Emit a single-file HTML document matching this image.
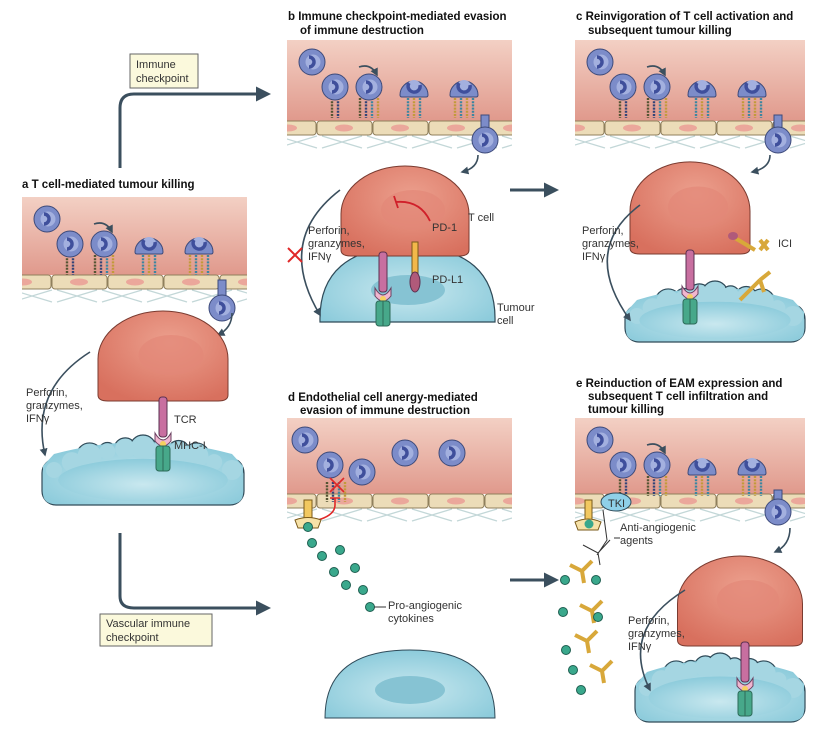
<!DOCTYPE html>
<html><head><meta charset="utf-8"><style>
html,body{margin:0;padding:0;background:#fff;}
svg{display:block;font-family:"Liberation Sans",sans-serif;}
.t{font-size:11px;fill:#333;}
.h{font-size:11.5px;font-weight:bold;fill:#111;}
</style></head><body>
<svg id="s" width="830" height="733" viewBox="0 0 830 733" xmlns="http://www.w3.org/2000/svg">
<defs>
<linearGradient id="ves" x1="0" y1="0" x2="0" y2="1"><stop offset="0" stop-color="#f3d0c4"/><stop offset="1" stop-color="#e0998c"/></linearGradient>
<radialGradient id="tc" cx="0.55" cy="0.35" r="0.7"><stop offset="0" stop-color="#eca08e"/><stop offset="1" stop-color="#d8705e"/></radialGradient>
<radialGradient id="tu" cx="0.5" cy="0.6" r="0.6"><stop offset="0" stop-color="#c9e8ef"/><stop offset="1" stop-color="#8ccbdb"/></radialGradient>
<marker id="ar" viewBox="0 0 10 10" refX="8" refY="5" markerWidth="5" markerHeight="5" orient="auto"><path d="M0,0L10,5L0,10z" fill="#3b4f5e"/></marker>
<g id="leuk"><circle r="13" fill="#7c8cc9" stroke="#3d4a7a" stroke-width="1"/><circle r="7.5" cx="1" fill="#a3b0df"/><path d="M-3,-5 A5,5 0 1 1 -3,5" fill="none" stroke="#3f4f9c" stroke-width="3.5"/></g>
<g id="dome"><path d="M-14,5 A14,14 0 1 1 14,5 Q14,7 12,7 L-12,7 Q-14,7 -14,5Z" fill="#7c8cc9" stroke="#3d4a7a"/><circle r="7" cy="-3" fill="#a3b0df"/><path d="M-5,-7 A6,6 0 1 0 6,-5" fill="none" stroke="#3f4f9c" stroke-width="3.5"/></g>
<g id="endo"><rect x="0" y="0" width="55" height="14" rx="3" fill="#ecdcb8" stroke="#8f7f5c" stroke-width="1"/><ellipse cx="27" cy="7" rx="9" ry="3.5" fill="#eba79b"/></g>
<g id="cross"><path d="M0,0 L40,12 M40,0 L0,12" stroke="#c3d7d8" stroke-width="1.3"/></g>
<g id="rec"><rect x="-4" y="0" width="8" height="40" rx="3" fill="#c86fa0" stroke="#5a3050"/><path d="M-8,36 Q0,50 8,36 L8,44 Q0,54 -8,44z" fill="#f0b6cf" stroke="#6a4060"/><circle cx="0" cy="47" r="3" fill="#f5d060"/><rect x="-7" y="49" width="14" height="25" rx="3" fill="#47a88a" stroke="#2d6a58"/><line x1="0" y1="49" x2="0" y2="74" stroke="#2d6a58"/></g>
</defs>
<g id="shapes"></g>

<path d="M120,168 V108 Q120,94 134,94 H268" fill="none" stroke="#3b4f5e" stroke-width="3" marker-end="url(#ar)"/>
<path d="M120,533 V596 Q120,608 134,608 H268" fill="none" stroke="#3b4f5e" stroke-width="3" marker-end="url(#ar)"/>
<path d="M510,190 H556" stroke="#3b4f5e" stroke-width="3" marker-end="url(#ar)"/>
<path d="M510,580 H556" stroke="#3b4f5e" stroke-width="3" marker-end="url(#ar)"/>
<rect x="130" y="54" width="68" height="34" fill="#fbf9dc" stroke="#666"/>
<text class="t" x="136" y="68">Immune</text><text class="t" x="136" y="82">checkpoint</text>
<rect x="100" y="614" width="112" height="32" fill="#fbf9dc" stroke="#666"/>
<text class="t" x="106" y="627">Vascular immune</text><text class="t" x="106" y="641">checkpoint</text>

<text class="h" x="22" y="188">a  T cell-mediated tumour killing</text>
<text class="h" x="288" y="20">b  Immune checkpoint-mediated evasion</text>
<text class="h" x="300" y="34">of immune destruction</text>
<text class="h" x="576" y="20">c  Reinvigoration of T cell activation and</text>
<text class="h" x="588" y="34">subsequent tumour killing</text>
<text class="h" x="288" y="401">d  Endothelial cell anergy-mediated</text>
<text class="h" x="300" y="414">evasion of  immune destruction</text>
<text class="h" x="576" y="387">e  Reinduction of EAM expression and</text>
<text class="h" x="588" y="400">subsequent T cell infiltration and</text>
<text class="h" x="588" y="413">tumour killing</text>

<text class="t" x="26" y="396">Perforin,</text><text class="t" x="26" y="409">granzymes,</text><text class="t" x="26" y="422">IFNγ</text>
<text class="t" x="174" y="423">TCR</text><text class="t" x="174" y="449">MHC-I</text>
<text class="t" x="308" y="234">Perforin,</text><text class="t" x="308" y="247">granzymes,</text><text class="t" x="308" y="260">IFNγ</text>
<text class="t" x="468" y="221">T cell</text><text class="t" x="432" y="231">PD-1</text><text class="t" x="432" y="283">PD-L1</text>
<text class="t" x="497" y="311">Tumour</text><text class="t" x="497" y="324">cell</text>
<text class="t" x="582" y="234">Perforin,</text><text class="t" x="582" y="247">granzymes,</text><text class="t" x="582" y="260">IFNγ</text>
<text class="t" x="778" y="247">ICI</text>
<text class="t" x="388" y="609">Pro-angiogenic</text><text class="t" x="388" y="622">cytokines</text>
<text class="t" x="620" y="531">Anti-angiogenic</text><text class="t" x="620" y="544">agents</text>
<text class="t" x="608" y="507">TKI</text>
<text class="t" x="628" y="624">Perforin,</text><text class="t" x="628" y="637">granzymes,</text><text class="t" x="628" y="650">IFNγ</text>
</svg>
<script>
var S=document.getElementById('shapes');
function add(h){S.insertAdjacentHTML('beforeend',h);}
function vessel(x,y,w,h){
  var ey=y+h-15,s='<rect x="'+x+'" y="'+y+'" width="'+w+'" height="'+(h-14)+'" fill="url(#ves)"/>';
  s+='<svg x="'+x+'" y="'+(ey+14)+'" width="'+w+'" height="16" overflow="hidden">';
  for(var cx=-10;cx<w+30;cx+=45)s+='<use href="#cross" x="'+cx+'" y="2"/>';
  s+='</svg><svg x="'+x+'" y="'+ey+'" width="'+w+'" height="16" overflow="hidden">';
  for(var i=-1;i<6;i++)s+='<use href="#endo" x="'+(i*56+30)+'" y="1"/>';
  s+='</svg>';add(s);
}
function legs(x,y,n,c){var s='';for(var i=0;i<n;i++){var lx=x-(n-1)*3+i*6;s+='<line x1="'+lx+'" y1="'+y+'" x2="'+lx+'" y2="'+(y+20)+'" stroke="'+(c[i%c.length])+'" stroke-width="2.4" stroke-dasharray="2 1.2"/>';}add(s);}
function row(x,y){
  add('<use href="#leuk" x="'+(x+25)+'" y="'+(y+22)+'"/>');
  legs(x+48,y+58,2,['#553','#347']);add('<use href="#leuk" x="'+(x+48)+'" y="'+(y+47)+'"/>');
  legs(x+82,y+58,4,['#553','#347','#3c86a0','#c29a3a']);add('<use href="#leuk" x="'+(x+82)+'" y="'+(y+47)+'"/>');
  add('<path d="M'+(x+72)+','+(y+27)+' q12,-4 18,8" fill="none" stroke="#3b4f5e" stroke-width="1.6" marker-end="url(#ar)"/>');
  legs(x+127,y+58,3,['#3c86a0','#c29a3a']);add('<use href="#dome" x="'+(x+127)+'" y="'+(y+50)+'"/>');
  legs(x+177,y+58,4,['#c29a3a','#3c86a0']);add('<use href="#dome" x="'+(x+177)+'" y="'+(y+50)+'"/>');
}
function tcell(cx,by,w,h){add('<path d="M'+(cx-w/2)+','+by+' L'+(cx-w/2)+','+(by-h*0.45)+' A'+(w/2)+','+(h*0.6)+' 0 0 1 '+(cx+w/2)+','+(by-h*0.45)+' L'+(cx+w/2)+','+by+' Q'+(cx+w/2)+','+(by+6)+' '+(cx+w/2-10)+','+(by+6)+' L'+(cx-w/2+10)+','+(by+6)+' Q'+(cx-w/2)+','+(by+6)+' '+(cx-w/2)+','+by+'Z" fill="url(#tc)" stroke="#7a3b30"/><ellipse cx="'+(cx+8)+'" cy="'+(by-h*0.5)+'" rx="'+(w*0.25)+'" ry="'+(h*0.25)+'" fill="#e38877" opacity=".7"/>');}
function cloud(x1,x2,top,bot){
  var w=x2-x1,s='<g>',b=[];
  for(var i=0;i<11;i++){var t=i/10,bx=x1+12+t*(w-24),by=top+14+Math.pow(Math.abs(t-0.5)*2,2)*22;b.push([bx,by,9+ (i%3)*2]);}
  s+='<rect x="'+x1+'" y="'+(top+25)+'" width="'+w+'" height="'+(bot-top-25)+'" rx="14" fill="#9fd3e0" stroke="#2f4a58" stroke-width="1.2"/>';
  b.forEach(function(c){s+='<circle cx="'+c[0]+'" cy="'+c[1]+'" r="'+c[2]+'" fill="#9fd3e0" stroke="#2f4a58" stroke-width="1.2"/>';});
  s+='<path d="M'+(x1+12)+','+(top+20)+' Q'+(x1+w/2)+','+(top-4)+' '+(x2-12)+','+(top+20)+' L'+(x2-1)+','+(top+32)+' L'+(x2-1)+','+(bot-12)+' Q'+(x2-1)+','+(bot-1)+' '+(x2-14)+','+(bot-1)+' L'+(x1+14)+','+(bot-1)+' Q'+(x1+1)+','+(bot-1)+' '+(x1+1)+','+(bot-12)+' L'+(x1+1)+','+(top+32)+'Z" fill="url(#tu)"/>';
  b.forEach(function(c){s+='<circle cx="'+c[0]+'" cy="'+c[1]+'" r="'+(c[2]-1)+'" fill="#a5d6e2"/>';});
  s+='<ellipse cx="'+(x1+w/2)+'" cy="'+(top+(bot-top)*0.65)+'" rx="'+(w*0.42)+'" ry="'+((bot-top)*0.3)+'" fill="url(#tu)"/></g>';add(s);
}
function arc(d){add('<path d="'+d+'" fill="none" stroke="#3b4f5e" stroke-width="1.6" marker-end="url(#ar)"/>');}
vessel(22,197,225,92);row(22,197);
add('<rect x="218" y="280" width="8" height="22" fill="#7c8cc9" stroke="#3d4a7a"/><use href="#leuk" x="222" y="308"/>');
arc('M232,313 Q232,328 218,335');
tcell(163,395,130,80);cloud(42,244,434,505);add('<use href="#rec" x="163" y="397"/>');arc('M90,352 Q30,390 45,455');
vessel(287,40,225,95);row(287,40);
add('<rect x="481" y="115" width="8" height="20" fill="#7c8cc9" stroke="#3d4a7a"/><use href="#leuk" x="485" y="140"/>');arc('M478,155 Q478,168 462,172');
add('<path d="M320,322 Q318,248 408,246 Q497,248 495,322 Z" fill="url(#tu)" stroke="#2f4a58" stroke-width="1.2"/><ellipse cx="408" cy="290" rx="37" ry="15" fill="#86c3d3"/>');
tcell(405,250,128,80);
add('<use href="#rec" x="383" y="252"/><rect x="412" y="242" width="6" height="32" fill="#f2b84a" stroke="#7a5a1a"/><ellipse cx="415" cy="282" rx="5" ry="10" fill="#b05a7a" stroke="#5a3050"/><path d="M430,221 Q420,200 396,202 M394,196 L398,208" fill="none" stroke="#d0202a" stroke-width="1.8"/>');
arc('M340,190 Q275,240 320,315');add('<path d="M288,248 l14,14 M302,248 l-14,14" stroke="#e02828" stroke-width="2"/>');
vessel(575,40,230,95);row(575,40);
add('<rect x="774" y="115" width="8" height="20" fill="#7c8cc9" stroke="#3d4a7a"/><use href="#leuk" x="778" y="140"/>');arc('M770,155 Q770,168 752,172');
tcell(690,248,120,82);cloud(625,805,280,342);add('<use href="#rec" x="690" y="250"/>');arc('M640,205 Q580,250 630,320');
add('<path d="M735,238 L755,250 M760,240 l8,10 m0,-10 l-8,10 M740,300 L760,280 m0,0 l10,-8 m-10,8 l4,12" stroke="#d8a83a" stroke-width="4" fill="none"/><ellipse cx="733" cy="236" rx="5" ry="4" fill="#b05a7a"/>');
vessel(287,418,225,90);
[[305,440],[330,465],[362,472],[405,453],[452,453]].forEach(function(p){add('<use href="#leuk" x="'+p[0]+'" y="'+p[1]+'"/>');});
legs(336,482,4,['#553','#347','#3c86a0','#c29a3a']);
add('<path d="M330,478 l14,14 M344,478 l-14,14 M330,498 H340 M335,498 L335,505 Q335,515 318,520" stroke="#e02828" stroke-width="1.6" fill="none"/>');
add('<rect x="304" y="500" width="8" height="22" fill="#f2c860" stroke="#7a5a1a"/><path d="M295,520 Q308,515 321,520 L318,528 L298,528Z" fill="#f7e2a8" stroke="#7a5a1a"/>');
[[308,527],[312,543],[322,556],[340,550],[334,572],[355,568],[346,585],[363,590],[370,607]].forEach(function(p){add('<circle cx="'+p[0]+'" cy="'+p[1]+'" r="4.5" fill="#3aa88c" stroke="#1e5e50"/>');});
add('<line x1="374" y1="607" x2="386" y2="607" stroke="#333"/>');
add('<path d="M325,718 Q325,650 410,650 Q495,650 495,718Z" fill="url(#tu)" stroke="#2f4a58"/><ellipse cx="410" cy="690" rx="35" ry="14" fill="#86c3d3"/>');
vessel(575,418,230,90);row(575,418);
add('<rect x="774" y="490" width="8" height="20" fill="#7c8cc9" stroke="#3d4a7a"/><use href="#leuk" x="778" y="512"/>');arc('M790,528 Q790,545 775,552');
add('<ellipse cx="616" cy="502" rx="15" ry="9" fill="#8fd0e8" stroke="#2f4a58"/>');
add('<rect x="585" y="500" width="7" height="24" fill="#f2c860" stroke="#7a5a1a"/><path d="M575,522 Q588,516 601,522 L598,530 L578,530Z" fill="#f7e2a8" stroke="#7a5a1a"/><circle cx="589" cy="524" r="4.5" fill="#3aa88c"/>');
add('<path d="M583,545 L598,553 L610,540 M598,553 L600,565 M603,510 L607,540 L597,555 M614,538 H620" stroke="#333" fill="none"/>');
[[570,560],[580,600],[575,630],[590,660]].forEach(function(p){add('<path d="M'+p[0]+','+(p[1]+5)+' l12,6 l10,-10 m-10,10 l2,12" stroke="#d8a83a" stroke-width="4" fill="none"/>');});
[[565,580],[563,612],[573,670],[596,580],[598,617],[581,690],[566,650]].forEach(function(p){add('<circle cx="'+p[0]+'" cy="'+p[1]+'" r="4.5" fill="#3aa88c" stroke="#1e5e50"/>');});
tcell(740,640,125,80);cloud(635,805,652,722);add('<use href="#rec" x="745" y="642"/>');arc('M685,590 Q620,630 650,690');
</script>
</body></html>
